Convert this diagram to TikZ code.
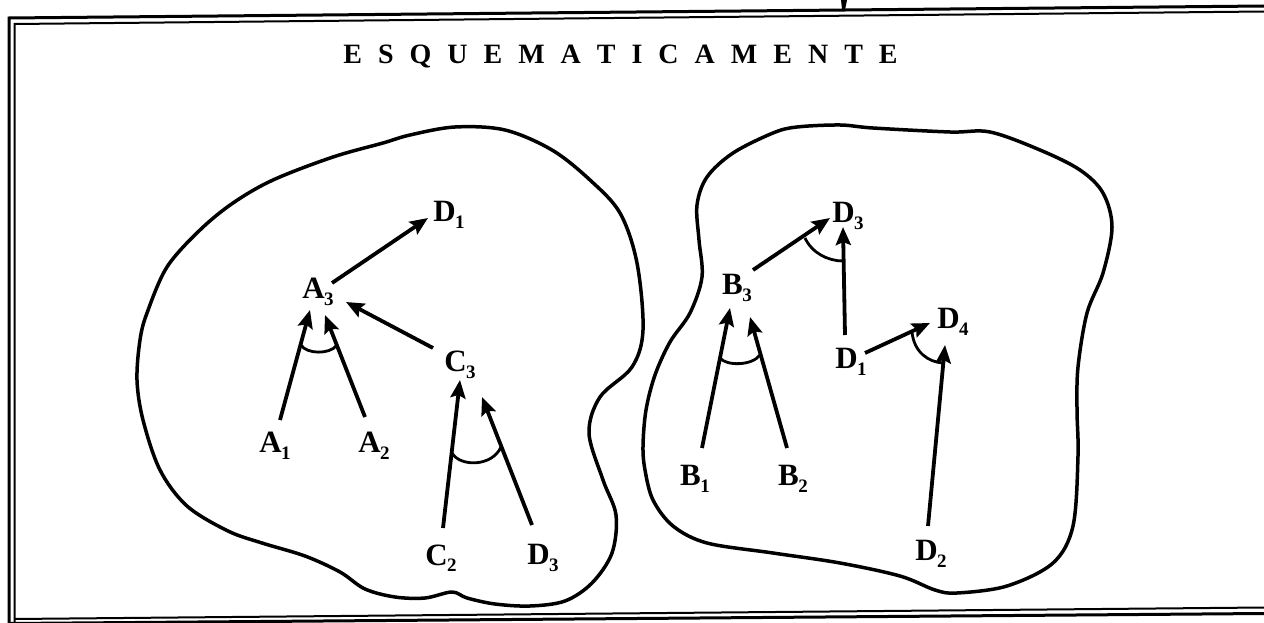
\documentclass[tikz,border=0pt]{standalone}
\usepackage{fontspec}
\setmainfont{Liberation Serif}
\usetikzlibrary{arrows.meta}
\newcommand{\sbs}[1]{\kern-0.5pt\raisebox{-6.5pt}{\fontsize{19}{19}\selectfont #1}}
\tikzset{
  lab/.style={font=\bfseries\fontsize{31}{31}\selectfont, inner sep=0pt},
  arr/.style={line width=3.8pt, -{Stealth[length=18pt,width=15pt,inset=3pt]}},
  andarc/.style={line width=2.8pt},
  blob/.style={line width=3.5pt, line join=round},
  frameouter/.style={line width=3pt},
  frameinner/.style={line width=2pt}
}
\begin{document}
\begin{tikzpicture}[x=1pt,y=-1pt]
\useasboundingbox (0,0) rectangle (1264,623);
% frame
\draw[frameouter] (9,623) -- (9,18) -- (1264,6);
\draw[frameinner] (14.5,623) -- (14.5,24) -- (1264,11.5);
\draw[frameinner] (14.5,619) -- (1264,607.5);
\draw[frameouter] (9,623.5) -- (1264,613.5);
\fill (841,0) -- (847,0) -- (845,10) -- (842,9) -- cycle;
% title
\node[font=\bfseries\fontsize{28}{28}\selectfont, anchor=base, inner sep=0pt] (title) at (620.5,64)
  {\spaceskip=16pt E S Q U E M A T I C A M E N T E};
% blobs
\draw[blob] plot[smooth cycle, tension=0.55] coordinates {(410,135) (455,127) (505,130) (552,150) (590,180) (620,213) (637,263) (643,330) (632,367) (600,397) (589,433) (603,480) (616,515) (612,553) (592,583) (565,601) (530,606) (495,604) (467,598) (452,592) (425,598) (395,597) (365,589) (340,572) (305,556) (262,543) (228,531) (187,506) (160,470) (143,420) (137,380) (140,340) (147,313) (167,267) (200,230) (233,203) (273,180) (333,157) (383,143)};
\draw[blob] plot[smooth cycle, tension=0.55] coordinates {(797,127) (840,125) (873,128) (950,132) (990,132) (1040,150) (1080,170) (1103,193) (1112,227) (1103,273) (1087,313) (1078,367) (1077,410) (1078,456) (1073,526) (1053,563) (1007,586) (957,593) (935,590) (900,576) (840,563) (773,553) (707,543) (673,526) (653,500) (645,470) (643,446) (646,410) (655,375) (670,342) (690,313) (702,277) (699,240) (697,205) (707,177) (733,153) (773,133)};
% left nodes
\node[lab] (A3) at (318,292) {A\sbs{3}};
\node[lab] (D1L) at (449,215) {D\sbs{1}};
\node[lab] (A1) at (275,446) {A\sbs{1}};
\node[lab] (A2) at (374,446) {A\sbs{2}};
\node[lab] (C3) at (460,365) {C\sbs{3}};
\node[lab] (C2) at (441,558) {C\sbs{2}};
\node[lab] (D3L) at (543,558) {D\sbs{3}};
% right nodes
\node[lab] (B3) at (737,288) {B\sbs{3}};
\node[lab] (D3R) at (848,216) {D\sbs{3}};
\node[lab] (D1R) at (851,362) {D\sbs{1}};
\node[lab] (D4) at (953,322) {D\sbs{4}};
\node[lab] (B1) at (695,479) {B\sbs{1}};
\node[lab] (B2) at (793,479) {B\sbs{2}};
\node[lab] (D2) at (931,554) {D\sbs{2}};
% left connectors
\draw[arr] ([shift={(14,-9)}]A3.center) -- ([shift={(-21,3)}]D1L.center);
\draw[arr] ([shift={(-27,-17)}]C3.center) -- ([shift={(28,10)}]A3.center);
\draw[arr] ([shift={(5,-26)}]A1.center) -- ([shift={(-8,18)}]A3.center);
\draw[arr] ([shift={(-9,-29)}]A2.center) -- ([shift={(7,23)}]A3.center);
\draw[arr] ([shift={(2,-30)}]C2.center) -- ([shift={(0,15)}]C3.center);
\draw[arr] ([shift={(-11,-33)}]D3L.center) -- ([shift={(22,32)}]C3.center);
% right connectors
\draw[arr] ([shift={(16,-18)}]B3.center) -- ([shift={(-18,2)}]D3R.center);
\draw[arr] ([shift={(-6,-27)}]D1R.center) -- ([shift={(-5,11)}]D3R.center);
\draw[arr] ([shift={(14,-9)}]D1R.center) -- ([shift={(-23,1)}]D4.center);
\draw[arr] ([shift={(7,-31)}]B1.center) -- ([shift={(-7,20)}]B3.center);
\draw[arr] ([shift={(-6,-31)}]B2.center) -- ([shift={(13,29)}]B3.center);
\draw[arr] ([shift={(-3,-28)}]D2.center) -- ([shift={(-8,23)}]D4.center);
% AND arcs
\draw[andarc] (301,345) .. controls (306,354) and (330,355) .. (337,345);
\draw[andarc] (452,453) .. controls (460,467) and (492,467) .. (501,447);
\draw[andarc] (720,358) .. controls (726,366) and (752,366) .. (760,355);
\draw[andarc] (805,238) .. controls (812,253) and (828,261) .. (843,261);
\draw[andarc] (912,332) .. controls (914,352) and (928,362) .. (943,363);
\end{tikzpicture}
\end{document}
